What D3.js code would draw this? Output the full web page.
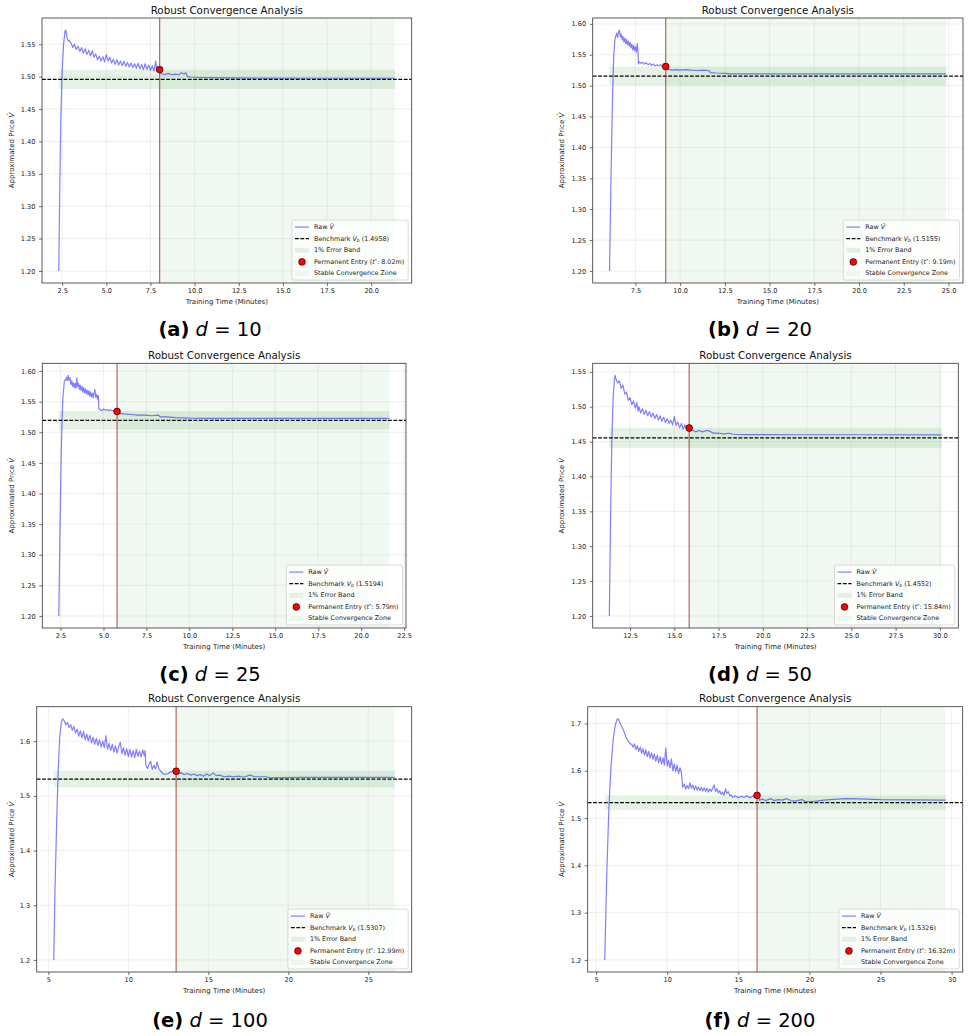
<!DOCTYPE html>
<html><head><meta charset="utf-8">
<script src="https://cdn.jsdelivr.net/npm/d3@7"></script>
<style>
body{margin:0;background:#fff;}
svg text{font-family:"DejaVu Sans",sans-serif;}
</style></head><body>
<svg id="chart" width="970" height="1036"></svg>
<script>
// ---------------- DATA ----------------
const panelLetters = ["a","b","c","d","e","f"];
const dims = [10, 20, 25, 50, 100, 200];
const benchmarks = [1.4958, 1.5155, 1.5194, 1.4552, 1.5307, 1.5326];
const bandLow  = [1.4808, 1.5003, 1.5042, 1.4406, 1.5154, 1.5173];
const bandHigh = [1.5108, 1.5307, 1.5346, 1.4698, 1.5460, 1.5479];
const entryTimes  = [8.02, 9.19, 5.79, 15.84, 12.99, 16.32];
const entryValues = [1.511, 1.531, 1.534, 1.4695, 1.545, 1.548];

const xTicksA = [2.5,5,7.5,10,12.5,15,17.5,20];
const xTicksB = [7.5,10,12.5,15,17.5,20,22.5,25];
const xTicksC = [2.5,5,7.5,10,12.5,15,17.5,20,22.5];
const xTicksD = [12.5,15,17.5,20,22.5,25,27.5,30];
const xTicksE = [5,10,15,20,25];
const xTicksF = [5,10,15,20,25,30];
const yTicksA = [1.20,1.25,1.30,1.35,1.40,1.45,1.50,1.55];
const yTicksB = [1.20,1.25,1.30,1.35,1.40,1.45,1.50,1.55,1.60];
const yTicksC = [1.20,1.25,1.30,1.35,1.40,1.45,1.50,1.55,1.60];
const yTicksD = [1.20,1.25,1.30,1.35,1.40,1.45,1.50,1.55];
const yTicksE = [1.2,1.3,1.4,1.5,1.6];
const yTicksF = [1.2,1.3,1.4,1.5,1.6,1.7];

const rawA = [[2.31,1.200],[2.36,1.320],[2.42,1.430],[2.50,1.510],[2.58,1.550],[2.66,1.570],[2.70,1.572],[2.75,1.565],[2.80,1.558],[2.85,1.555],[2.90,1.556],
[3.0,1.552],[3.1,1.545],[3.2,1.550],[3.3,1.542],[3.4,1.547],[3.5,1.539],[3.6,1.545],[3.7,1.536],[3.8,1.543],[3.9,1.534],
[4.0,1.541],[4.1,1.532],[4.2,1.540],[4.3,1.530],[4.4,1.535],[4.5,1.526],[4.6,1.532],[4.7,1.524],[4.8,1.531],[4.9,1.523],
[5.0,1.534],[5.1,1.524],[5.2,1.530],[5.3,1.521],[5.4,1.527],[5.5,1.519],[5.6,1.526],[5.7,1.518],[5.8,1.524],[5.9,1.517],
[6.0,1.524],[6.1,1.516],[6.2,1.522],[6.3,1.515],[6.4,1.521],[6.5,1.514],[6.6,1.520],[6.7,1.513],[6.8,1.521],[6.9,1.512],
[7.0,1.519],[7.1,1.511],[7.2,1.520],[7.3,1.511],[7.4,1.518],[7.5,1.510],[7.6,1.517],[7.7,1.509],[7.8,1.524],[7.85,1.510],[7.9,1.515],[8.0,1.511],[8.02,1.511],
[8.1,1.505],[8.3,1.503],[8.5,1.505],[8.7,1.503],[8.9,1.504],[9.1,1.503],[9.25,1.506],[9.4,1.504],[9.5,1.506],[9.6,1.500],[9.8,1.4995],
[10.2,1.499],[11.0,1.4985],[12.0,1.4982],[14.0,1.4978],[17.0,1.4976],[21.34,1.4976]];

const rawB = [[6.05,1.200],[6.12,1.330],[6.20,1.460],[6.28,1.545],[6.35,1.575],
[6.40,1.580],[6.45,1.585],[6.50,1.578],[6.55,1.586],[6.60,1.590],[6.65,1.579],[6.70,1.584],[6.75,1.574],[6.80,1.580],[6.85,1.571],
[6.90,1.577],[6.95,1.568],[7.00,1.575],[7.05,1.566],[7.10,1.572],[7.15,1.564],[7.20,1.570],[7.25,1.561],[7.30,1.567],[7.35,1.558],
[7.40,1.565],[7.45,1.557],[7.50,1.563],[7.55,1.554],[7.60,1.568],[7.64,1.556],[7.67,1.535],
[7.7,1.539],[7.8,1.536],[7.9,1.538],[8.0,1.535],[8.1,1.537],[8.2,1.534],[8.3,1.536],[8.4,1.533],[8.5,1.535],[8.6,1.532],
[8.7,1.534],[8.8,1.532],[8.9,1.534],[9.0,1.531],[9.1,1.533],[9.19,1.531],[9.25,1.527],[9.4,1.526],[9.6,1.525],[9.8,1.526],
[10.0,1.525],[10.3,1.526],[10.6,1.525],[11.0,1.5245],[11.3,1.525],[11.6,1.5245],[11.7,1.521],[12.0,1.5205],[12.5,1.520],[12.8,1.519],
[15.0,1.519],[20.0,1.519],[24.87,1.519]];

const rawC = [[2.40,1.200],[2.47,1.350],[2.55,1.480],[2.63,1.555],[2.72,1.583],[2.78,1.586],
[2.80,1.585],[2.85,1.590],[2.90,1.584],[2.95,1.593],[3.00,1.585],[3.05,1.589],[3.10,1.578],[3.15,1.584],[3.20,1.575],[3.25,1.581],
[3.30,1.573],[3.35,1.580],[3.40,1.572],[3.45,1.589],[3.50,1.574],[3.55,1.580],[3.60,1.570],[3.65,1.577],[3.70,1.568],[3.75,1.575],
[3.80,1.566],[3.85,1.573],[3.90,1.564],[3.95,1.571],[4.00,1.563],[4.05,1.569],[4.10,1.561],[4.15,1.568],[4.20,1.559],[4.25,1.566],
[4.30,1.558],[4.35,1.564],[4.40,1.556],[4.45,1.563],[4.50,1.570],[4.55,1.557],[4.60,1.562],[4.65,1.554],[4.70,1.560],[4.73,1.538],
[4.8,1.537],[4.9,1.535],[5.0,1.538],[5.1,1.536],[5.2,1.537],[5.3,1.535],[5.4,1.537],[5.5,1.535],[5.6,1.536],[5.7,1.534],[5.79,1.534],
[5.9,1.531],[6.2,1.530],[6.6,1.529],[7.0,1.528],[7.4,1.528],[7.8,1.527],[8.2,1.528],[8.3,1.525],[8.7,1.525],[9.2,1.524],
[10.0,1.523],[11.0,1.5228],[14.0,1.5226],[18.0,1.5226],[21.65,1.5226]];

const rawD = [[11.33,1.200],[11.40,1.340],[11.47,1.450],[11.55,1.515],[11.62,1.540],[11.66,1.545],
[11.70,1.540],[11.80,1.534],[11.90,1.537],[12.00,1.526],[12.10,1.531],[12.20,1.518],[12.30,1.521],[12.40,1.509],[12.50,1.513],
[12.60,1.503],[12.70,1.508],[12.80,1.498],[12.88,1.506],[12.95,1.494],[13.00,1.500],[13.10,1.491],[13.20,1.497],[13.30,1.489],
[13.40,1.495],[13.50,1.487],[13.60,1.493],[13.70,1.485],[13.80,1.491],[13.90,1.483],[14.00,1.489],[14.10,1.481],[14.20,1.487],
[14.30,1.479],[14.40,1.485],[14.50,1.477],[14.60,1.483],[14.70,1.476],[14.80,1.481],[14.90,1.474],[15.00,1.486],[15.10,1.473],
[15.20,1.478],[15.30,1.470],[15.40,1.476],[15.50,1.468],[15.60,1.474],[15.70,1.467],[15.84,1.470],
[15.9,1.465],[16.0,1.467],[16.2,1.464],[16.4,1.466],[16.6,1.464],[16.8,1.466],[17.0,1.465],[17.2,1.462],[17.5,1.462],[17.8,1.461],
[18.1,1.462],[18.3,1.4605],[19.0,1.460],[22.0,1.4598],[26.0,1.4598],[30.1,1.4596]];

const rawE = [[5.34,1.200],[5.42,1.330],[5.52,1.450],[5.62,1.550],[5.72,1.610],[5.82,1.635],[5.90,1.641],
[6.0,1.637],[6.1,1.630],[6.2,1.634],[6.3,1.625],[6.4,1.630],[6.5,1.620],[6.6,1.627],[6.7,1.615],[6.8,1.622],[6.9,1.609],
[7.0,1.619],[7.1,1.606],[7.2,1.618],[7.3,1.603],[7.4,1.613],[7.5,1.600],[7.6,1.611],[7.7,1.597],[7.8,1.607],[7.9,1.594],
[8.0,1.605],[8.1,1.592],[8.2,1.603],[8.3,1.589],[8.4,1.600],[8.5,1.588],[8.6,1.610],[8.7,1.585],[8.8,1.596],[8.9,1.583],
[9.0,1.594],[9.1,1.580],[9.2,1.592],[9.3,1.578],[9.4,1.590],[9.5,1.598],[9.6,1.577],[9.7,1.588],[9.8,1.574],[9.9,1.586],
[10.0,1.572],[10.1,1.585],[10.2,1.571],[10.3,1.583],[10.4,1.570],[10.5,1.585],[10.6,1.572],[10.7,1.582],[10.8,1.571],[10.9,1.584],
[11.0,1.573],[11.05,1.583],[11.1,1.556],[11.2,1.550],[11.3,1.558],[11.4,1.563],[11.5,1.548],[11.6,1.556],[11.7,1.549],[11.8,1.562],
[11.9,1.550],[12.0,1.546],[12.1,1.543],[12.2,1.540],[12.3,1.539],[12.4,1.540],[12.5,1.541],[12.6,1.543],[12.7,1.544],[12.8,1.546],
[12.9,1.545],[12.99,1.545],[13.1,1.540],[13.3,1.542],[13.5,1.539],[13.7,1.541],[13.9,1.538],[14.1,1.540],[14.3,1.537],[14.5,1.539],
[14.7,1.536],[14.9,1.540],[15.1,1.537],[15.3,1.542],[15.5,1.537],[15.7,1.538],[16.0,1.535],[16.3,1.536],[16.6,1.535],[16.9,1.536],
[17.2,1.534],[17.6,1.538],[17.9,1.535],[18.3,1.535],[18.6,1.535],[18.9,1.533],[19.5,1.5335],[21.0,1.534],[24.0,1.534],[26.65,1.534]];

const rawF = [[5.61,1.200],[5.75,1.380],[5.90,1.520],[6.05,1.610],[6.20,1.665],[6.35,1.697],[6.50,1.710],[6.57,1.709],
[6.7,1.700],[6.9,1.688],[7.1,1.672],[7.3,1.661],[7.4,1.657],
[7.5,1.656],[7.6,1.650],[7.7,1.657],[7.8,1.645],[7.9,1.653],[8.0,1.641],[8.1,1.650],[8.2,1.637],[8.3,1.647],[8.4,1.633],
[8.5,1.644],[8.6,1.630],[8.7,1.641],[8.8,1.627],[8.9,1.638],[9.0,1.624],[9.1,1.636],[9.2,1.620],[9.3,1.633],[9.4,1.617],
[9.5,1.630],[9.6,1.614],[9.7,1.628],[9.8,1.612],[9.9,1.648],[10.0,1.610],[10.1,1.622],[10.2,1.606],[10.3,1.625],[10.4,1.600],
[10.5,1.614],[10.6,1.598],[10.7,1.612],[10.8,1.594],[10.9,1.606],[11.0,1.597],[11.07,1.570],
[11.1,1.565],[11.2,1.572],[11.3,1.561],[11.4,1.569],[11.5,1.562],[11.6,1.575],[11.7,1.563],[11.8,1.570],[11.9,1.560],[12.0,1.568],
[12.1,1.559],[12.2,1.566],[12.3,1.558],[12.4,1.565],[12.5,1.557],[12.6,1.564],[12.7,1.556],[12.8,1.563],[12.9,1.555],[13.0,1.562],
[13.1,1.556],[13.2,1.563],[13.3,1.570],[13.4,1.556],[13.5,1.562],[13.6,1.553],[13.7,1.558],[13.8,1.550],[13.9,1.555],[14.0,1.548],
[14.1,1.562],[14.2,1.552],[14.3,1.556],[14.4,1.547],[14.5,1.549],[14.6,1.544],[14.8,1.547],[15.0,1.543],[15.2,1.546],[15.4,1.544],
[15.6,1.547],[15.8,1.543],[16.0,1.546],[16.2,1.544],[16.32,1.548],
[16.5,1.538],[16.7,1.540],[16.9,1.537],[17.1,1.539],[17.3,1.541],[17.5,1.537],[17.8,1.539],[18.1,1.538],[18.4,1.541],[18.7,1.537],
[19.0,1.536],[19.3,1.538],[19.5,1.539],[19.7,1.535],[20.0,1.535],[20.5,1.536],[21.0,1.538],[21.5,1.539],[22.0,1.540],[22.5,1.541],
[23.5,1.5405],[25.0,1.539],[27.0,1.5385],[29.58,1.538]];

const rawSeries = [rawA, rawB, rawC, rawD, rawE, rawF];
const xTickSets = [xTicksA, xTicksB, xTicksC, xTicksD, xTicksE, xTicksF];
const yTickSets = [yTicksA, yTicksB, yTicksC, yTicksD, yTicksE, yTicksF];
const xTickFormats = [".1f", ".1f", ".1f", ".1f", "d", "d"];
const yTickFormats = [".2f", ".2f", ".2f", ".2f", ".1f", ".1f"];

// ---------------- LAYOUT ----------------
const layout = [
  {L:42,   R:411.7, T:18,    B:283, cx:210, capY:329,  ylx:11.7},
  {L:592.7,R:963,   T:18,    B:283, cx:760, capY:329,  ylx:561.7},
  {L:42.3, R:406,   T:363.3, B:628, cx:210, capY:674,  ylx:11.7},
  {L:592.7,R:958.3, T:363.3, B:628, cx:760, capY:674,  ylx:561.7},
  {L:36.7, R:411.7, T:706.7, B:972, cx:210, capY:1020, ylx:11.7},
  {L:587.7,R:962.7, T:706.7, B:972, cx:760, capY:1020, ylx:561.7}
];

const svg = d3.select("#chart");
const GREEN = "#008000";
const DASH = "3.8,1.6";

function drawPanel(i) {
  const raw = rawSeries[i], lay = layout[i];
  const g = svg.append("g");
  const xe = d3.extent(raw, d => d[0]), ye = d3.extent(raw, d => d[1]);
  const xp = (xe[1] - xe[0]) * 0.05, yp = (ye[1] - ye[0]) * 0.05;
  const x = d3.scaleLinear().domain([xe[0] - xp, xe[1] + xp]).range([lay.L, lay.R]);
  const y = d3.scaleLinear().domain([ye[0] - yp, ye[1] + yp]).range([lay.B, lay.T]);

  const clipId = "clip" + i;
  svg.append("clipPath").attr("id", clipId).append("rect")
    .attr("x", lay.L).attr("y", lay.T).attr("width", lay.R - lay.L).attr("height", lay.B - lay.T);
  const pg = g.append("g").attr("clip-path", `url(#${clipId})`);

  // stable convergence zone
  pg.append("rect")
    .attr("x", x(entryTimes[i])).attr("width", x(xe[1]) - x(entryTimes[i]))
    .attr("y", lay.T).attr("height", lay.B - lay.T)
    .attr("fill", GREEN).attr("fill-opacity", 0.055);
  // 1% error band
  pg.append("rect")
    .attr("x", x(xe[0])).attr("width", x(xe[1]) - x(xe[0]))
    .attr("y", y(bandHigh[i])).attr("height", y(bandLow[i]) - y(bandHigh[i]))
    .attr("fill", GREEN).attr("fill-opacity", 0.1);

  // grid
  pg.selectAll(".gx").data(xTickSets[i]).enter().append("line")
    .attr("x1", d => x(d)).attr("x2", d => x(d)).attr("y1", lay.T).attr("y2", lay.B)
    .attr("stroke", "#b0b0b0").attr("stroke-opacity", 0.3).attr("stroke-width", 0.7);
  pg.selectAll(".gy").data(yTickSets[i]).enter().append("line")
    .attr("y1", d => y(d)).attr("y2", d => y(d)).attr("x1", lay.L).attr("x2", lay.R)
    .attr("stroke", "#b0b0b0").attr("stroke-opacity", 0.3).attr("stroke-width", 0.7);

  // raw line
  pg.append("path").datum(raw)
    .attr("d", d3.line().x(d => x(d[0])).y(d => y(d[1])))
    .attr("fill", "none").attr("stroke", "blue").attr("stroke-opacity", 0.5)
    .attr("stroke-width", 1.2).attr("stroke-linejoin", "round");

  // benchmark
  pg.append("line").attr("x1", lay.L).attr("x2", lay.R)
    .attr("y1", y(benchmarks[i])).attr("y2", y(benchmarks[i]))
    .attr("stroke", "#000").attr("stroke-width", 1.25).attr("stroke-dasharray", DASH);

  // entry vertical line
  pg.append("line").attr("x1", x(entryTimes[i])).attr("x2", x(entryTimes[i]))
    .attr("y1", lay.T).attr("y2", lay.B)
    .attr("stroke", "darkred").attr("stroke-opacity", 0.6).attr("stroke-width", 1.2);

  // entry point
  pg.append("circle").attr("cx", x(entryTimes[i])).attr("cy", y(entryValues[i])).attr("r", 3.4)
    .attr("fill", "red").attr("stroke", "#000").attr("stroke-width", 0.6);

  // axes
  const xa = g.append("g").attr("transform", `translate(0,${lay.B})`)
    .call(d3.axisBottom(x).tickValues(xTickSets[i]).tickFormat(d3.format(xTickFormats[i])).tickSize(3).tickPadding(2));
  const ya = g.append("g").attr("transform", `translate(${lay.L},0)`)
    .call(d3.axisLeft(y).tickValues(yTickSets[i]).tickFormat(d3.format(yTickFormats[i])).tickSize(3).tickPadding(3.5));
  [xa, ya].forEach(a => {
    a.select(".domain").remove();
    a.selectAll("line").attr("stroke", "#333").attr("stroke-width", 0.7);
    a.selectAll("text").attr("font-size", 6.6).attr("fill", "#222").attr("font-family", "DejaVu Sans");
  });

  // frame
  g.append("rect").attr("x", lay.L).attr("y", lay.T).attr("width", lay.R - lay.L).attr("height", lay.B - lay.T)
    .attr("fill", "none").attr("stroke", "#333").attr("stroke-width", 0.8);

  // title
  g.append("text").attr("x", (lay.L + lay.R) / 2).attr("y", lay.T - 4.3)
    .attr("text-anchor", "middle").attr("font-size", 10.3).attr("fill", "#111")
    .text("Robust Convergence Analysis");
  // x label
  g.append("text").attr("x", (lay.L + lay.R) / 2).attr("y", lay.B + 21)
    .attr("text-anchor", "middle").attr("font-size", 7).attr("fill", "#222")
    .text("Training Time (Minutes)");
  // y label
  const yl = g.append("text").attr("transform", `translate(${lay.ylx},${(lay.T + lay.B) / 2}) rotate(-90)`)
    .attr("text-anchor", "middle").attr("dominant-baseline", "central").attr("font-size", 7).attr("fill", "#222");
  yl.append("tspan").text("Approximated Price ");
  yl.append("tspan").attr("font-style", "italic").text("V\u0302");

  // legend
  const lg = g.append("g");
  const box = lg.append("rect");
  const entries = lg.append("g");
  const rowH = 11.6, fs = 6.4;
  const hx = 3, tx = 22;
  const texts = [];
  for (let k = 0; k < 5; k++) {
    const cy = 7 + k * rowH;
    const t = entries.append("text").attr("x", tx).attr("y", cy).attr("dominant-baseline", "central")
      .attr("font-size", fs).attr("fill", "#222");
    if (k === 0) {
      entries.append("line").attr("x1", hx).attr("x2", hx + 14).attr("y1", cy).attr("y2", cy)
        .attr("stroke", "blue").attr("stroke-opacity", 0.5).attr("stroke-width", 1.2);
      t.append("tspan").text("Raw ");
      t.append("tspan").attr("font-style", "italic").text("V\u0302");
    } else if (k === 1) {
      entries.append("line").attr("x1", hx).attr("x2", hx + 14).attr("y1", cy).attr("y2", cy)
        .attr("stroke", "#000").attr("stroke-width", 1.25).attr("stroke-dasharray", DASH);
      t.append("tspan").text("Benchmark ");
      t.append("tspan").attr("font-style", "italic").text("V");
      t.append("tspan").attr("font-style", "italic").attr("font-size", fs * 0.7).attr("dy", 1.5).text("b");
      t.append("tspan").attr("dy", -1.5).text(" (" + d3.format(".4f")(benchmarks[i]) + ")");
    } else if (k === 2) {
      entries.append("rect").attr("x", hx).attr("y", cy - 2.5).attr("width", 14).attr("height", 5)
        .attr("fill", GREEN).attr("fill-opacity", 0.1);
      t.text("1% Error Band");
    } else if (k === 3) {
      entries.append("circle").attr("cx", hx + 7).attr("cy", cy).attr("r", 3.4)
        .attr("fill", "red").attr("stroke", "#000").attr("stroke-width", 0.6);
      t.append("tspan").text("Permanent Entry (");
      t.append("tspan").attr("font-style", "italic").text("t");
      t.append("tspan").attr("font-size", fs * 0.7).attr("dy", -2).text("*");
      t.append("tspan").attr("dy", 2).text(": " + d3.format(".2f")(entryTimes[i]) + "m)");
    } else {
      entries.append("rect").attr("x", hx).attr("y", cy - 2.5).attr("width", 14).attr("height", 5)
        .attr("fill", GREEN).attr("fill-opacity", 0.055);
      t.text("Stable Convergence Zone");
    }
    texts.push(t);
  }
  const maxW = d3.max(texts, t => t.node().getComputedTextLength());
  const lw = tx + maxW + 4, lh = 4 * rowH + 13.5;
  box.attr("x", 0).attr("y", 0).attr("width", lw).attr("height", lh).attr("rx", 2)
    .attr("fill", "#fff").attr("fill-opacity", 0.8).attr("stroke", "#cccccc").attr("stroke-width", 0.7);
  lg.attr("transform", `translate(${lay.R - 3.5 - lw},${lay.B - 3 - lh})`);

  // caption
  const cap = svg.append("text").attr("x", lay.cx).attr("y", lay.capY).attr("text-anchor", "middle")
    .attr("dominant-baseline", "central").attr("font-size", 19.5).attr("fill", "#000");
  cap.append("tspan").attr("font-weight", "bold").text("(" + panelLetters[i] + ")");
  cap.append("tspan").text(" ");
  cap.append("tspan").attr("font-style", "italic").text("d");
  cap.append("tspan").text(" = " + dims[i]);
}

for (let i = 0; i < 6; i++) drawPanel(i);
</script>
</body></html>
